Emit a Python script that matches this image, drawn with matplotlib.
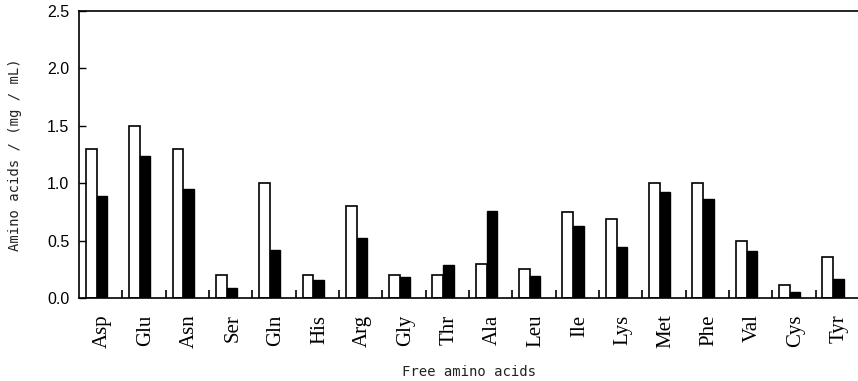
import numpy as np
import matplotlib.pyplot as plt

amino = ['Asp', 'Glu', 'Asn', 'Ser', 'Gln', 'His', 'Arg', 'Gly', 'Thr',
         'Ala', 'Leu', 'Ile', 'Lys', 'Met', 'Phe', 'Val', 'Cys', 'Tyr']
white_vals = [1.30, 1.50, 1.30, 0.20, 1.00, 0.20, 0.80, 0.20, 0.20,
              0.30, 0.25, 0.75, 0.69, 1.00, 1.00, 0.50, 0.11, 0.36]
black_vals = [0.89, 1.24, 0.95, 0.09, 0.42, 0.16, 0.52, 0.18, 0.29,
              0.755, 0.19, 0.63, 0.44, 0.92, 0.86, 0.41, 0.055, 0.165]

fig = plt.figure(figsize=(8.58, 3.81), dpi=100)
ax = fig.add_axes([0.092, 0.218, 0.91, 0.753])

x = np.arange(len(amino))
ax.bar(x + 0.16, white_vals, width=0.25, align='edge', color='white',
       edgecolor='black', linewidth=1.2)
ax.bar(x + 0.41, black_vals, width=0.24, align='edge', color='black',
       edgecolor='black', linewidth=1.0)

ax.set_xlim(0, 18.02)
ax.set_ylim(0, 2.5)

# boundary ticks between groups, labels in the middle
ax.set_xticks(np.arange(1, 18))
ax.set_xticklabels([])
ax.tick_params(axis='x', which='major', direction='in', length=6, width=1.2)
ax.set_xticks(x + 0.55, minor=True)
ax.set_xticklabels(amino, minor=True, rotation=90, fontsize=15,
                   family='Liberation Serif')
ax.tick_params(axis='x', which='minor', length=0, pad=12)

ax.set_yticks([0, 0.5, 1.0, 1.5, 2.0, 2.5])
ax.set_yticklabels(['0.0', '0.5', '1.0', '1.5', '2.0', '2.5'],
                   fontsize=11.5, family='Liberation Sans')
ax.tick_params(axis='y', direction='in', length=5, width=1, pad=7)

ax.spines['right'].set_visible(False)
for s in ['left', 'top', 'bottom']:
    ax.spines[s].set_linewidth(1.2)

ax.set_ylabel('Amino acids / (mg / mL)', fontsize=10,
              family='DejaVu Sans Mono', color='#222222', labelpad=18)
ax.set_xlabel('Free amino acids', fontsize=10, family='DejaVu Sans Mono',
              color='#222222', labelpad=12)

fig.savefig('out.png', dpi=100)
